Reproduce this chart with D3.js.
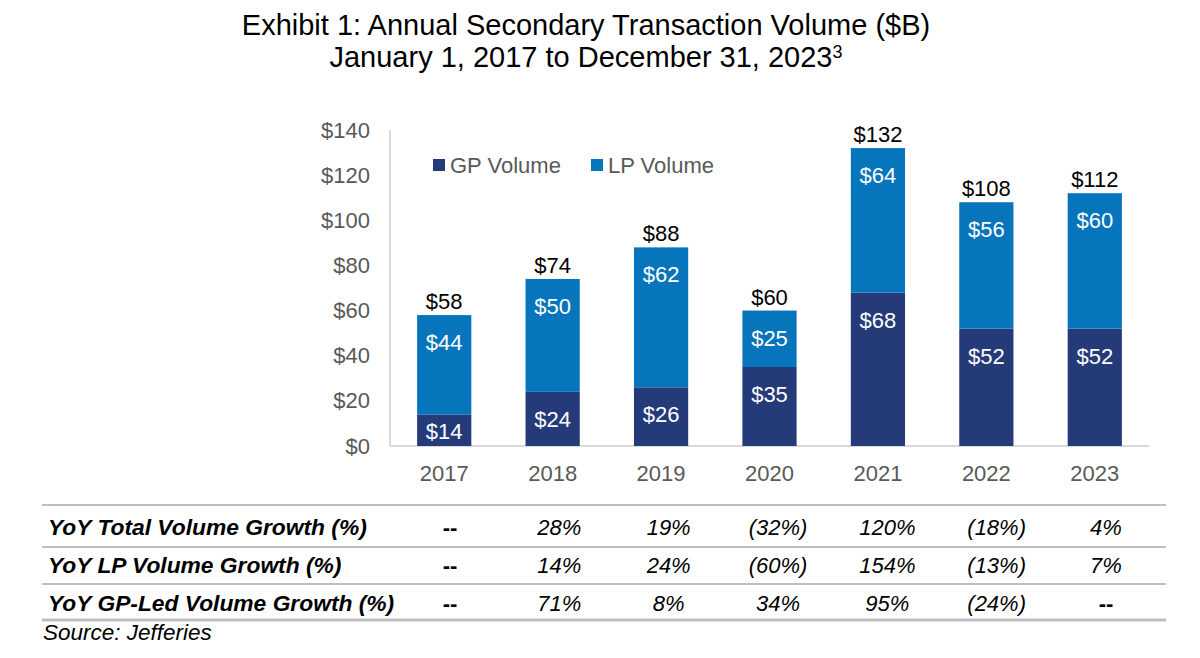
<!DOCTYPE html>
<html><head><meta charset="utf-8">
<script src="https://cdn.jsdelivr.net/npm/d3@7"></script>
<style>
html,body{margin:0;padding:0;background:#fff;}
svg{display:block;font-family:"Liberation Sans",Arial,sans-serif;}
</style></head>
<body>
<svg id="chart" width="1200" height="658"></svg>
<script>
const years = ["2017","2018","2019","2020","2021","2022","2023"];
const gpVolume = [14,24,26,35,68,52,52];
const lpVolume = [44,50,62,25,64,56,60];
const totalVolume = [58,74,88,60,132,108,112];
const yTicks = [0,20,40,60,80,100,120,140];
const seriesNames = ["GP Volume","LP Volume"];
const rowLabels = ["YoY Total Volume Growth (%)","YoY LP Volume Growth (%)","YoY GP-Led Volume Growth (%)"];
const totalGrowth = ["--","28%","19%","(32%)","120%","(18%)","4%"];
const lpGrowth = ["--","14%","24%","(60%)","154%","(13%)","7%"];
const gpGrowth = ["--","71%","8%","34%","95%","(24%)","--"];
const titleLine1 = "Exhibit 1: Annual Secondary Transaction Volume ($B)";
const titleLine2 = "January 1, 2017 to December 31, 2023";
const sourceText = "Source: Jefferies";

const colors = {GP:"#253a79", LP:"#0775bc"};
const svg = d3.select("#chart");
const FS = 22;

// title
svg.append("text").attr("x",586).attr("y",35).attr("text-anchor","middle")
  .style("font-size","29px").attr("fill","#000").text(titleLine1);
const t2 = svg.append("text").attr("x",586).attr("y",67).attr("text-anchor","middle")
  .style("font-size","29px").attr("fill","#000");
t2.append("tspan").text(titleLine2);
t2.append("tspan").attr("dy",-9).style("font-size","18px").text("3");

// scales
const x = d3.scaleBand().domain(years).range([390,1149]).paddingInner(0.5).paddingOuter(0.25);
const y = d3.scaleLinear().domain([0,140]).range([446,130]);
// table columns sit on a slightly wider grid than the bars
const xt = d3.scalePoint().domain(years).range([450,1106]);

// axes lines
svg.append("line").attr("x1",390).attr("x2",390).attr("y1",y(140)).attr("y2",y(0))
  .attr("stroke","#d9d9d9").attr("stroke-width",2);

// y tick labels
const yAxis = d3.axisLeft(y).tickValues(yTicks).tickFormat(d=>"$"+d).tickSize(0).tickPadding(20);
const gy = svg.append("g").attr("transform","translate(390,0)").call(yAxis);
gy.select(".domain").remove();
gy.selectAll("text").style("font-size",FS+"px").attr("fill","#595959")
  .style("font-family","'Liberation Sans',Arial,sans-serif");

// x axis
const xAxis = d3.axisBottom(x).tickSize(0).tickPadding(19);
const gx = svg.append("g").attr("transform","translate(0,"+y(0)+")").call(xAxis);
gx.select(".domain").attr("d","M390,0H1149").attr("stroke","#d9d9d9").attr("stroke-width",2);
gx.selectAll("text").style("font-size",FS+"px").attr("fill","#595959")
  .style("font-family","'Liberation Sans',Arial,sans-serif");

// bars
const data = years.map((yr,i)=>({yr, gp:gpVolume[i], lp:lpVolume[i], total:totalVolume[i]}));
const stack = d3.stack().keys(["gp","lp"])(data);
const keyColor = {gp:colors.GP, lp:colors.LP};
stack.forEach(layer=>{
  const g = svg.append("g");
  g.selectAll("rect").data(layer).enter().append("rect")
    .attr("x",d=>x(d.data.yr)).attr("width",x.bandwidth())
    .attr("y",d=>y(d[1])).attr("height",d=>y(d[0])-y(d[1]))
    .attr("fill",keyColor[layer.key]);
  g.selectAll("text").data(layer).enter().append("text")
    .attr("x",d=>x(d.data.yr)+x.bandwidth()/2)
    .attr("y",d=>Math.min(y(d[1])+35, y(d[0])-7))
    .attr("text-anchor","middle").attr("fill","#fff").style("font-size",FS+"px")
    .text(d=>"$"+d.data[layer.key]);
});
// totals
svg.append("g").selectAll("text").data(data).enter().append("text")
  .attr("x",d=>x(d.yr)+x.bandwidth()/2).attr("y",d=>y(d.total)-6)
  .attr("text-anchor","middle").attr("fill","#000").style("font-size",FS+"px")
  .text(d=>"$"+d.total);

// legend
const legX = [433,591];
seriesNames.forEach((n,i)=>{
  svg.append("rect").attr("x",legX[i]).attr("y",159).attr("width",12).attr("height",12)
    .attr("fill",i===0?colors.GP:colors.LP);
  svg.append("text").attr("x",legX[i]+17).attr("y",173).style("font-size",FS+"px")
    .attr("fill","#595959").text(n);
});

// table
const rows = [totalGrowth, lpGrowth, gpGrowth];
const rowBase = [535,573,611];
const lineYs = [505,547,584,620];
lineYs.forEach((ly,i)=>{
  svg.append("line").attr("x1",42).attr("x2",1166).attr("y1",ly).attr("y2",ly)
    .attr("stroke","#bfbfbf").attr("stroke-width", i===3?3:2);
});
rows.forEach((r,ri)=>{
  svg.append("text").attr("x",48).attr("y",rowBase[ri]).style("font-size","22.8px")
    .style("font-weight","bold").style("font-style","italic").attr("fill","#000").text(rowLabels[ri]);
  svg.append("g").selectAll("text").data(r).enter().append("text")
    .attr("x",(d,i)=>xt(years[i]))
    .attr("y",rowBase[ri]).attr("text-anchor","middle").style("font-size",FS+"px")
    .style("font-style",d=>d==="--"?"normal":"italic")
    .style("font-weight",d=>d==="--"?"bold":"normal")
    .attr("fill","#000").text(d=>d);
});
svg.append("text").attr("x",43).attr("y",640).style("font-size","22.5px")
  .style("font-style","italic").attr("fill","#000").text(sourceText);
</script>
</body></html>
